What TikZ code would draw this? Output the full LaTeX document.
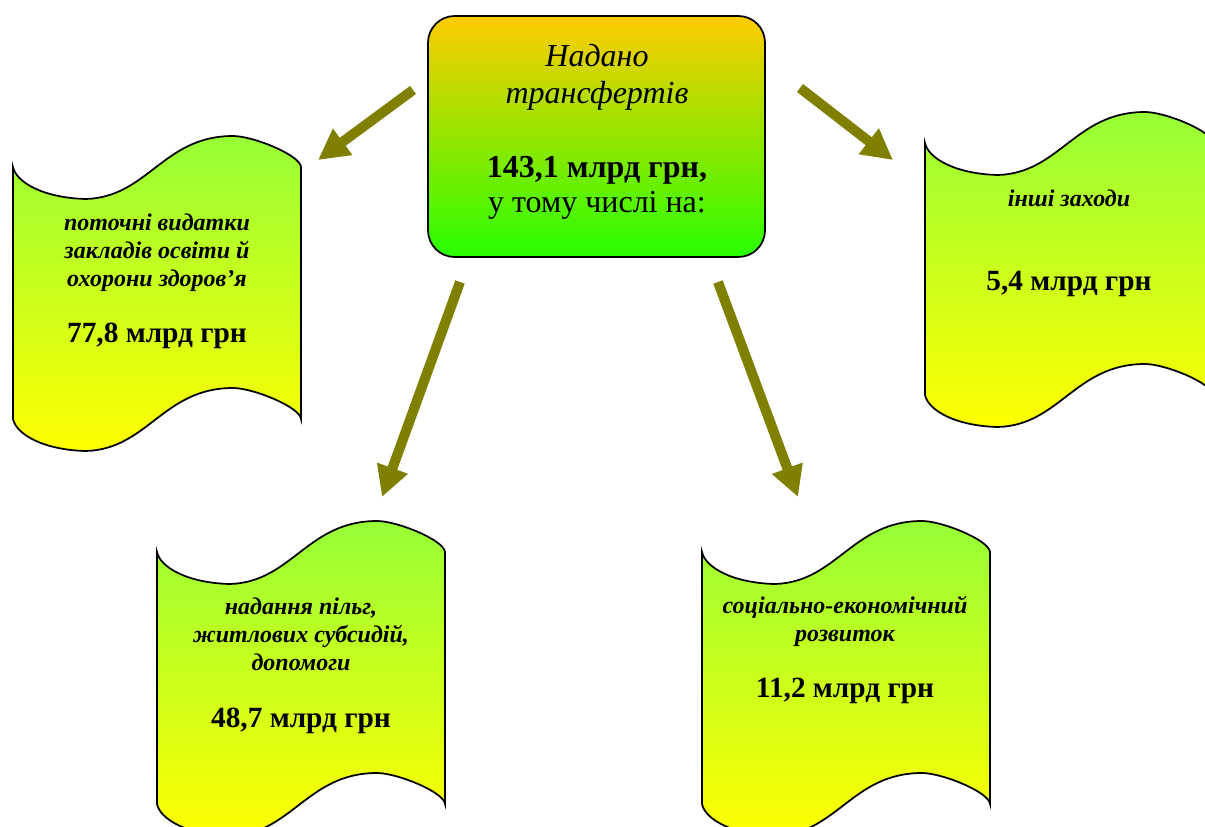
\documentclass[tikz,border=0pt]{standalone}
\usepackage{fontspec}
\setmainfont{Liberation Serif}
\usetikzlibrary{arrows.meta}
\definecolor{arrowolive}{RGB}{128,128,0}
\definecolor{wavetop}{RGB}{150,255,55}
\definecolor{wavebottom}{RGB}{255,255,0}
\definecolor{boxtop}{RGB}{255,204,0}
\definecolor{boxbottom}{RGB}{40,255,0}
\begin{document}
\begin{tikzpicture}[x=0.75pt,y=0.75pt,yscale=-1,xscale=1,
  wavebox/.style={draw=black,line width=1.3pt,top color=wavetop,bottom color=wavebottom},
  mainbox/.style={draw=black,line width=1.3pt,rounded corners=20pt,top color=boxtop,bottom color=boxbottom},
  flow/.style={draw=arrowolive,line width=7.5pt,-{Triangle[width=23pt,length=23pt]}},
  wavetitle/.style={inner sep=0pt,align=center,font=\fontsize{18}{21}\selectfont\bfseries\itshape},
  wavesum/.style={inner sep=0pt,align=center,font=\fontsize{22}{26}\selectfont\bfseries},
]
\useasboundingbox (0,0) rectangle (1205,827);
\clip (0,0) rectangle (1205,827);

%Shape: Rounded Rect [id:main]
\draw [mainbox] (428,16) rectangle (765,257) ;

%Shape: Wave [id:osvita]
\draw [wavebox,shift={(13,167)}] (0,0) .. controls (3,15) and (30,31) .. (73,32) .. controls (135,30) and (150,-31) .. (220,-31) .. controls (240,-31) and (287,-12) .. (288,0) -- (288,252) .. controls (287,240) and (240,221) .. (220,221) .. controls (150,221) and (135,282) .. (73,284) .. controls (30,283) and (3,267) .. (0,252) -- cycle ;
%Shape: Wave [id:pilgy]
\draw [wavebox,shift={(157,552)}] (0,0) .. controls (3,15) and (30,31) .. (73,32) .. controls (135,30) and (150,-31) .. (220,-31) .. controls (240,-31) and (287,-12) .. (288,0) -- (288,252) .. controls (287,240) and (240,221) .. (220,221) .. controls (150,221) and (135,282) .. (73,284) .. controls (30,283) and (3,267) .. (0,252) -- cycle ;
%Shape: Wave [id:rozvytok]
\draw [wavebox,shift={(702,552)}] (0,0) .. controls (3,15) and (30,31) .. (73,32) .. controls (135,30) and (150,-31) .. (220,-31) .. controls (240,-31) and (287,-12) .. (288,0) -- (288,252) .. controls (287,240) and (240,221) .. (220,221) .. controls (150,221) and (135,282) .. (73,284) .. controls (30,283) and (3,267) .. (0,252) -- cycle ;
%Shape: Wave [id:inshi]
\draw [wavebox,shift={(925,143)}] (0,0) .. controls (3,15) and (30,31) .. (73,32) .. controls (135,30) and (150,-31) .. (220,-31) .. controls (240,-31) and (287,-12) .. (288,0) -- (288,252) .. controls (287,240) and (240,221) .. (220,221) .. controls (150,221) and (135,282) .. (73,284) .. controls (30,283) and (3,267) .. (0,252) -- cycle ;

% Text Node
\node (nadano) at (597,77) [inner sep=0pt,align=center,font=\fontsize{24}{27.75}\selectfont\itshape] {Надано\\трансфертів};
% Text Node
\node (total) at (597,188) [inner sep=0pt,align=center,font=\fontsize{24}{26.25}\selectfont] {\textbf{143,1 млрд грн,}\\у тому числі на:};

% Text Node
\node (osvita) at (157,253) [wavetitle] {поточні видатки\\закладів освіти й\\охорони здоров’я};
\node (osvita-sum) at (157,336) [wavesum] {77,8 млрд грн};
% Text Node
\node (pilgy) at (301,634) [wavetitle] {надання пільг,\\житлових субсидій,\\допомоги};
\node (pilgy-sum) at (301,721) [wavesum] {48,7 млрд грн};
% Text Node
\node (rozvytok) at (845,621) [wavetitle] {соціально-економічний\\розвиток};
\node (rozvytok-sum) at (845,691) [wavesum] {11,2 млрд грн};
% Text Node
\node (inshi) at (1069,198) [wavetitle] {інші заходи};
\node (inshi-sum) at (1069,284) [wavesum] {5,4 млрд грн};

%Arrows
\coordinate (from-a) at (413,90);  \coordinate (to-a) at (318,160);
\coordinate (from-b) at (460,282); \coordinate (to-b) at (382,497);
\coordinate (from-c) at (718,282); \coordinate (to-c) at (798,497);
\coordinate (from-d) at (800,88);  \coordinate (to-d) at (893,160);
\draw [flow] (from-a) -- (to-a) ;
\draw [flow] (from-b) -- (to-b) ;
\draw [flow] (from-c) -- (to-c) ;
\draw [flow] (from-d) -- (to-d) ;

\end{tikzpicture}
\end{document}
